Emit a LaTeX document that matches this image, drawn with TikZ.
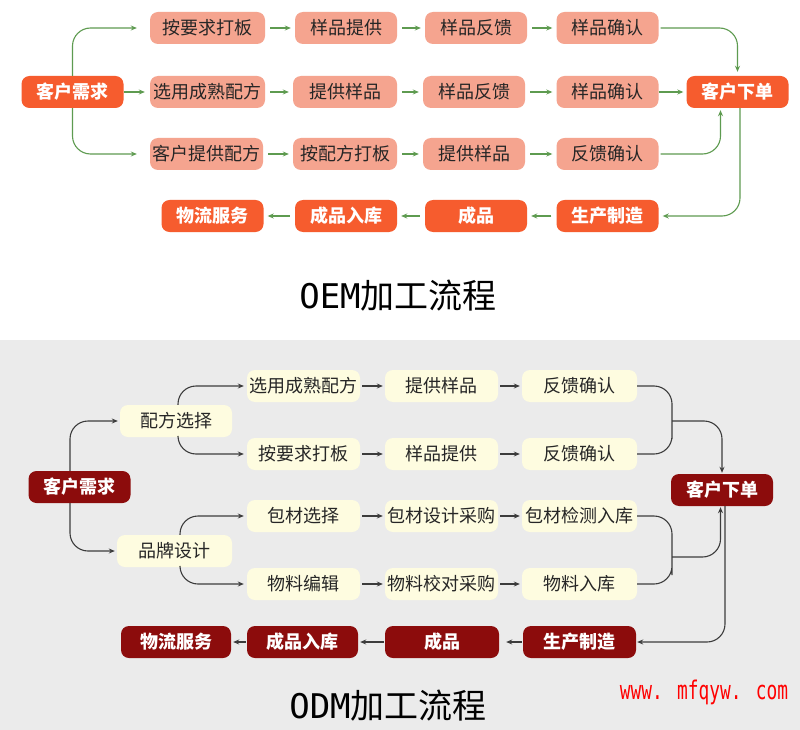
\documentclass[tikz,border=0pt]{standalone}
\usepackage{fontspec}
\setmainfont{Noto Sans CJK SC}
\newfontfamily\monof{DejaVu Sans Mono}
\usetikzlibrary{arrows.meta}
\definecolor{oemL}{HTML}{F5A48F}
\definecolor{oemD}{HTML}{F65C2E}
\definecolor{grn}{HTML}{5E9B50}
\definecolor{cream}{HTML}{FEFCE0}
\definecolor{dred}{HTML}{8C0C0C}
\definecolor{bggray}{HTML}{EBEBEB}
\definecolor{lnk}{HTML}{3C3C3C}
\begin{document}
\begin{tikzpicture}[x=1pt,y=-1pt,
  box/.style={rounded corners=8pt, inner sep=0pt, minimum height=32pt, minimum width=#1,
    font=\fontsize{18}{20}\selectfont, text=black!85},
  box/.default=102pt,
  oL/.style={box=#1, fill=oemL}, oL/.default=102pt,
  oD/.style={box=#1, fill=oemD, text=white, font=\bfseries\fontsize{18}{20}\selectfont}, oD/.default=102pt,
  cL/.style={box=#1, fill=cream}, cL/.default=113pt,
  cD/.style={box=#1, fill=dred, text=white, font=\bfseries\fontsize{18}{20}\selectfont}, cD/.default=102pt,
  garr/.style={draw=grn, line width=1.1pt, -{Stealth[length=6pt,width=5pt]}, rounded corners=18pt},
  karr/.style={draw=lnk, line width=1.1pt, -{Stealth[length=6pt,width=5pt]}, rounded corners=18pt},
  kline/.style={draw=lnk, line width=1.1pt, rounded corners=18pt}
]
\useasboundingbox (0,0) rectangle (800,730);
\fill[white] (0,0) rectangle (800,340);
\fill[bggray] (0,340) rectangle (800,730);

% ---------- OEM ----------
\node[oL=115pt] (a11) at (207.5,28) {按要求打板};
\node[oL] (a12) at (346,28) {样品提供};
\node[oL] (a13) at (476,28) {样品反馈};
\node[oL] (a14) at (607.5,28) {样品确认};
\node[oD] (c1) at (72.5,92) {客户需求};
\node[oL=115pt] (a21) at (207.5,92) {选用成熟配方};
\node[oL=104pt] (a22) at (345,92) {提供样品};
\node[oL] (a23) at (474,92) {样品反馈};
\node[oL] (a24) at (607.5,92) {样品确认};
\node[oD] (c2) at (737.5,92) {客户下单};
\node[oL=113pt] (a31) at (206.5,154) {客户提供配方};
\node[oL=104pt] (a32) at (345,154) {按配方打板};
\node[oL] (a33) at (474,154) {提供样品};
\node[oL] (a34) at (607.5,154) {反馈确认};
\node[oD] (b1) at (212.5,216) {物流服务};
\node[oD] (b2) at (346,216) {成品入库};
\node[oD] (b3) at (476,216) {成品};
\node[oD] (b4) at (607.5,216) {生产制造};

\draw[garr] (c1.north) |- ([xshift=-13pt]a11.west);
\draw[garr] (c1.east) -- ([xshift=-5pt]a21.west);
\draw[garr] (c1.south) |- ([xshift=-13pt]a31.west);
\foreach \u/\v in {a11/a12,a12/a13,a13/a14,a21/a22,a22/a23,a23/a24,a31/a32,a32/a33,a33/a34}
  \draw[garr, shorten <=5pt, shorten >=4pt] (\u.east) -- (\v.west);
\draw[garr, shorten <=2pt, shorten >=4pt] (a14.east) -| (c2.north);
\draw[garr, shorten >=3pt] (a24.east) -- (c2.west);
\draw[garr, shorten <=2pt, shorten >=2pt] (a34.east) -| ([xshift=-17pt]c2.south);
\draw[garr, shorten >=4pt] ([xshift=2.5pt]c2.south) |- (b4.east);
\foreach \u/\v in {b4/b3,b3/b2,b2/b1}
  \draw[garr, shorten <=5pt, shorten >=4pt] (\u.west) -- (\v.east);

\node[font=\fontsize{34}{40}\selectfont] (tt1) at (398,296) {{\monof OEM}加工流程};

% ---------- ODM ----------
\node[cD] (d0) at (79.5,487) {客户需求};
\node[cL=112pt] (p1) at (176,421) {配方选择};
\node[cL=115pt] (p2) at (174.5,551) {品牌设计};
\node[cL] (q1) at (303.5,386) {选用成熟配方};
\node[cL] (q2) at (303.5,454) {按要求打板};
\node[cL] (q3) at (303.5,516) {包材选择};
\node[cL] (q4) at (303.5,584) {物料编辑};
\node[cL] (r1) at (441.5,386) {提供样品};
\node[cL] (r2) at (441.5,454) {样品提供};
\node[cL] (r3) at (441.5,516) {包材设计采购};
\node[cL] (r4) at (441.5,584) {物料校对采购};
\node[cL=115pt] (s1) at (579.5,386) {反馈确认};
\node[cL=115pt] (s2) at (579.5,454) {反馈确认};
\node[cL=115pt] (s3) at (579.5,516) {包材检测入库};
\node[cL=115pt] (s4) at (579.5,584) {物料入库};
\node[cD] (d1) at (722,490) {客户下单};
\node[cD=110pt] (t1) at (176,642) {物流服务};
\node[cD=111pt] (t2) at (302.5,642) {成品入库};
\node[cD=114pt] (t3) at (442,642) {成品};
\node[cD=113pt] (t4) at (579.5,642) {生产制造};

\draw[karr, shorten >=2pt] ([xshift=-9.5pt]d0.north) |- (p1.west);
\draw[karr, shorten >=2pt] ([xshift=-9.5pt]d0.south) |- (p2.west);
\draw[karr, shorten >=3pt] ([xshift=2pt]p1.north) |- (q1.west);
\draw[karr, shorten >=3pt] ([xshift=2pt]p1.south) |- (q2.west);
\draw[karr, shorten >=3pt] ([xshift=5.5pt]p2.north) |- (q3.west);
\draw[karr, shorten >=3pt] ([xshift=5.5pt]p2.south) |- (q4.west);
\foreach \u/\v in {q1/r1,q2/r2,q3/r3,q4/r4,r1/s1,r2/s2,r3/s3,r4/s4}
  \draw[karr, shorten <=2pt, shorten >=2pt] (\u.east) -- (\v.west);

\coordinate (j1) at (672,421);
\coordinate (j2) at (672,557);
\draw[kline] (s1.east) -| (j1) |- (s2.east);
\draw[karr, shorten >=1pt] (j1) -| (d1.north);
\draw[kline] (s3.east) -| (j2) |- (s4.east);
\draw[karr, shorten >=1pt] (j2) -| ([xshift=-1.5pt]d1.south);
\draw[karr, shorten >=1pt] ([xshift=3pt]d1.south) |- (t4.east);
\draw[karr, shorten <=1pt, shorten >=7pt] (t4.west) -- (t3.east);
\draw[karr, shorten <=1pt, shorten >=2pt] (t3.west) -- (t2.east);
\draw[karr, shorten <=1pt, shorten >=2pt] (t2.west) -- (t1.east);

\node[font=\fontsize{34}{40}\selectfont] (tt2) at (388,706) {{\monof ODM}加工流程};
\node[text=red, font=\monof\fontsize{19}{22}\selectfont] (wm) at (704,692) {\scalebox{0.94}[1.35]{www. mfqyw. com}};
\end{tikzpicture}
\end{document}
